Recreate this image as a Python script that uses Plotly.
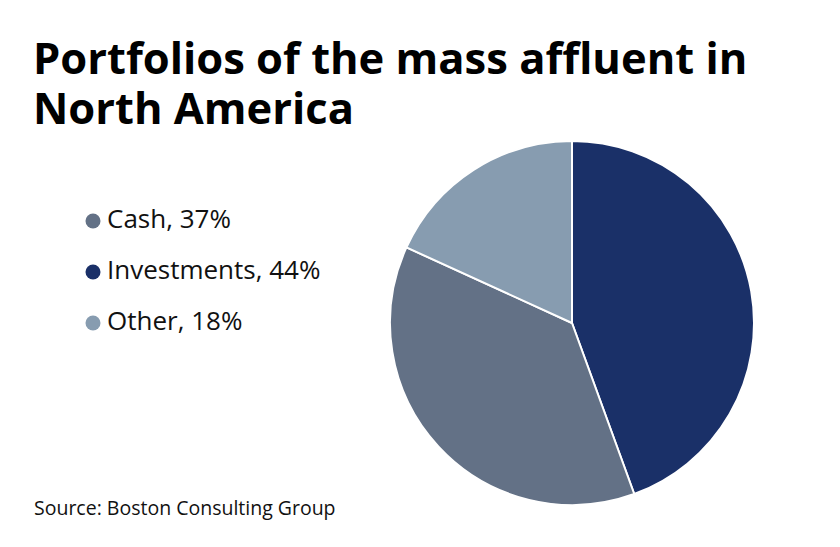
import plotly.graph_objects as go

# Data
categories = ["Investments", "Cash", "Other"]
values = [44, 37, 18]
colors = ["#1a3068", "#637186", "#879cb0"]

legend_order = ["Cash", "Investments", "Other"]

title_lines = ["Portfolios of the mass affluent in", "North America"]
source_text = "Source: Boston Consulting Group"

W, H = 840, 547
OFF = 8  # page body margin
FONT = "Open Sans"


def px(x):
    return (x - OFF) / W


def py(y):
    return 1 - (y - OFF) / H


fig = go.Figure()

fig.add_trace(go.Pie(
    labels=categories,
    values=values,
    marker=dict(colors=colors, line=dict(color="white", width=2)),
    sort=False,
    direction="clockwise",
    rotation=0,
    textinfo="none",
    hoverinfo="label+percent",
    showlegend=False,
    domain=dict(x=[px(390), px(754)], y=[py(505), py(141)]),
))

# Legend as scatter markers with text
leg_vals = [values[categories.index(c)] for c in legend_order]
leg_cols = [colors[categories.index(c)] for c in legend_order]
leg_text = ["%s, %d%%" % (c, v) for c, v in zip(legend_order, leg_vals)]

fig.add_trace(go.Scatter(
    x=[0] * len(legend_order),
    y=list(range(len(legend_order))),
    mode="markers",
    marker=dict(size=15, color=leg_cols),
    hoverinfo="skip",
    showlegend=False,
    cliponaxis=False,
))
fig.add_trace(go.Scatter(
    x=[14] * len(legend_order),
    y=list(range(len(legend_order))),
    mode="text",
    text=leg_text,
    textposition="middle right",
    textfont=dict(family=FONT, size=26, color="#111111"),
    hoverinfo="skip",
    showlegend=False,
    cliponaxis=False,
))

fig.update_xaxes(visible=False, range=[0, 100], domain=[px(93), px(193)], fixedrange=True)
fig.update_yaxes(visible=False, range=[2.5, -0.5], domain=[py(348.5), py(195.5)], fixedrange=True)

annotations = []
for i, line in enumerate(title_lines):
    annotations.append(dict(
        text="<b>%s</b>" % line, xref="paper", yref="paper",
        x=px(31), y=py(80 + 50 * i), xanchor="left", yanchor="bottom",
        showarrow=False, font=dict(family=FONT, size=43.5, color="#000000"),
        yshift=-9.5,
    ))
annotations.append(dict(
    text=source_text, xref="paper", yref="paper",
    x=px(32), y=py(507), xanchor="left", yanchor="middle",
    showarrow=False, font=dict(family=FONT, size=19.5, color="#111111"),
))

fig.update_layout(
    width=W, height=H,
    margin=dict(l=0, r=0, t=0, b=0),
    paper_bgcolor="white",
    plot_bgcolor="white",
    annotations=annotations,
)

fig.write_html("out.html")
